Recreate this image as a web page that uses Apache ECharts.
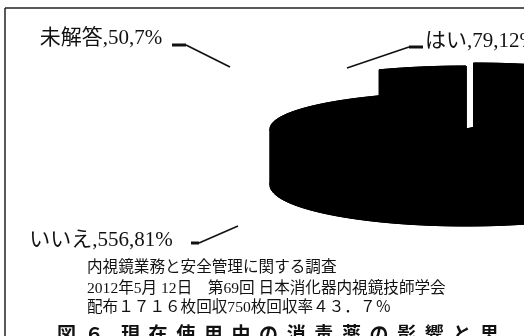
<!DOCTYPE html>
<html>
<head>
<meta charset="utf-8">
<script src="https://cdn.jsdelivr.net/npm/echarts@6/dist/echarts.min.js"></script>
<style>
html,body{margin:0;padding:0;background:#fff;}
#main{width:524px;height:336px;}
</style>
</head>
<body>
<div id="main"></div>
<script>
// ---- data ----
const categories = ['はい', 'いいえ', '未解答'];
const counts = [79, 556, 50];
const noteLines = [
  '内視鏡業務と安全管理に関する調査',
  '2012年5月 12日　第69回 日本消化器内視鏡技師学会',
  '配布１７１６枚回収750枚回収率４３．７％'
];
const figureTitle = '図  ６    現  在  使  用  中  の  消  毒  薬  の  影  響  と  思';

// ---- layout (styles / positions) ----
const PIE = { cx: 466, cy: 129, a: 196, b: 37, b2: 41, depth: 56 };
const EXPLODE = [[7.5, -29], [0, 0], [0, -26]];
const LABELS = [
  { x: 425, y: 41, align: 'left', line: [[347, 68], [409, 47]], tick: [[409, 47], [423, 47]] },
  { x: 101, y: 240, align: 'center', line: [[238, 226], [199, 243]], tick: [[199, 243], [191, 243]] },
  { x: 101, y: 38, align: 'center', line: [[230, 67], [186, 45]], tick: [[186, 45], [172, 45]] }
];
const LABEL_FONT = "'Liberation Serif','Noto Sans CJK JP',serif";

const total = counts.reduce((s, v) => s + v, 0);

function renderItem(params, api) {
  const i = params.dataIndex;
  let start = 0;
  for (let k = 0; k < i; k++) start += counts[k] / total * Math.PI * 2;
  const end = start + api.value(0) / total * Math.PI * 2;
  const ox = PIE.cx + EXPLODE[i][0], oy = PIE.cy + EXPLODE[i][1];
  const d = PIE.depth;
  const topPt = th => [ox + PIE.a * Math.sin(th), oy - PIE.b * Math.cos(th)];
  const botPt = th => [ox + PIE.a * Math.sin(th), oy + d - PIE.b2 * Math.cos(th)];
  const sample = (s, e, f) => {
    const n = Math.max(4, Math.ceil((e - s) / (Math.PI / 120)));
    const pts = [];
    for (let j = 0; j <= n; j++) pts.push(f(s + (e - s) * j / n));
    return pts;
  };
  const fillStyle = { fill: '#000', stroke: '#000', lineWidth: 1 };
  const children = [];
  const bounds = [start];
  [Math.PI / 2, Math.PI * 1.5, Math.PI * 2.5].forEach(t => { if (t > start && t < end) bounds.push(t); });
  bounds.push(end);
  for (let k = 0; k < bounds.length - 1; k++) {
    const tp = sample(bounds[k], bounds[k + 1], topPt);
    const bp = sample(bounds[k], bounds[k + 1], botPt).reverse();
    children.push({ type: 'polygon', shape: { points: tp.concat(bp) }, style: fillStyle });
  }
  [start, end].forEach(t => {
    children.push({ type: 'polygon', shape: { points: [[ox, oy], topPt(t), [topPt(t)[0], topPt(t)[1] + d], [ox, oy + d]] }, style: fillStyle });
  });
  children.push({ type: 'polygon', shape: { points: [[ox, oy + d]].concat(sample(start, end, botPt)) }, style: fillStyle });
  children.push({ type: 'polygon', shape: { points: [[ox, oy]].concat(sample(start, end, topPt)) }, style: fillStyle });
  const L = LABELS[i];
  const pct = Math.round(api.value(0) / total * 100);
  children.push({ type: 'polyline', shape: { points: L.line }, style: { stroke: '#111', lineWidth: 1.6, fill: null } });
  children.push({ type: 'polyline', shape: { points: L.tick }, style: { stroke: '#111', lineWidth: 3, fill: null } });
  children.push({
    type: 'text', x: L.x, y: L.y,
    style: {
      text: categories[i] + ',' + api.value(0) + ',' + pct + '%',
      fill: '#111', font: '21px ' + LABEL_FONT,
      textAlign: L.align, textVerticalAlign: 'middle'
    }
  });
  return { type: 'group', children: children };
}

const chart = echarts.init(document.getElementById('main'), null, { renderer: 'canvas' });
const noteFont = "15.6px 'Liberation Serif','Noto Sans CJK JP',serif";
chart.setOption({
  backgroundColor: '#fff',
  animation: false,
  series: [{
    type: 'custom',
    coordinateSystem: 'none',
    renderItem: renderItem,
    data: counts.map((v, i) => ({ name: categories[i], value: v })),
    silent: true
  }],
  graphic: [
    { type: 'line', shape: { x1: 5, y1: 8, x2: 524, y2: 8 }, style: { stroke: '#222', lineWidth: 1.5 } },
    { type: 'line', shape: { x1: 5, y1: 8, x2: 5, y2: 336 }, style: { stroke: '#222', lineWidth: 1.5 } },
    { type: 'text', x: 87, y: 268, style: { text: noteLines[0], font: noteFont, fill: '#111', textVerticalAlign: 'middle' } },
    { type: 'text', x: 87, y: 289, style: { text: noteLines[1], font: noteFont, fill: '#111', textVerticalAlign: 'middle' } },
    { type: 'text', x: 87, y: 308, style: { text: noteLines[2], font: noteFont, fill: '#111', textVerticalAlign: 'middle' } },
    { type: 'text', x: 57, y: 334, style: { text: figureTitle, font: "bold 19px 'Noto Sans CJK JP',sans-serif", fill: '#111', textVerticalAlign: 'middle' } }
  ]
});
</script>
</body>
</html>
